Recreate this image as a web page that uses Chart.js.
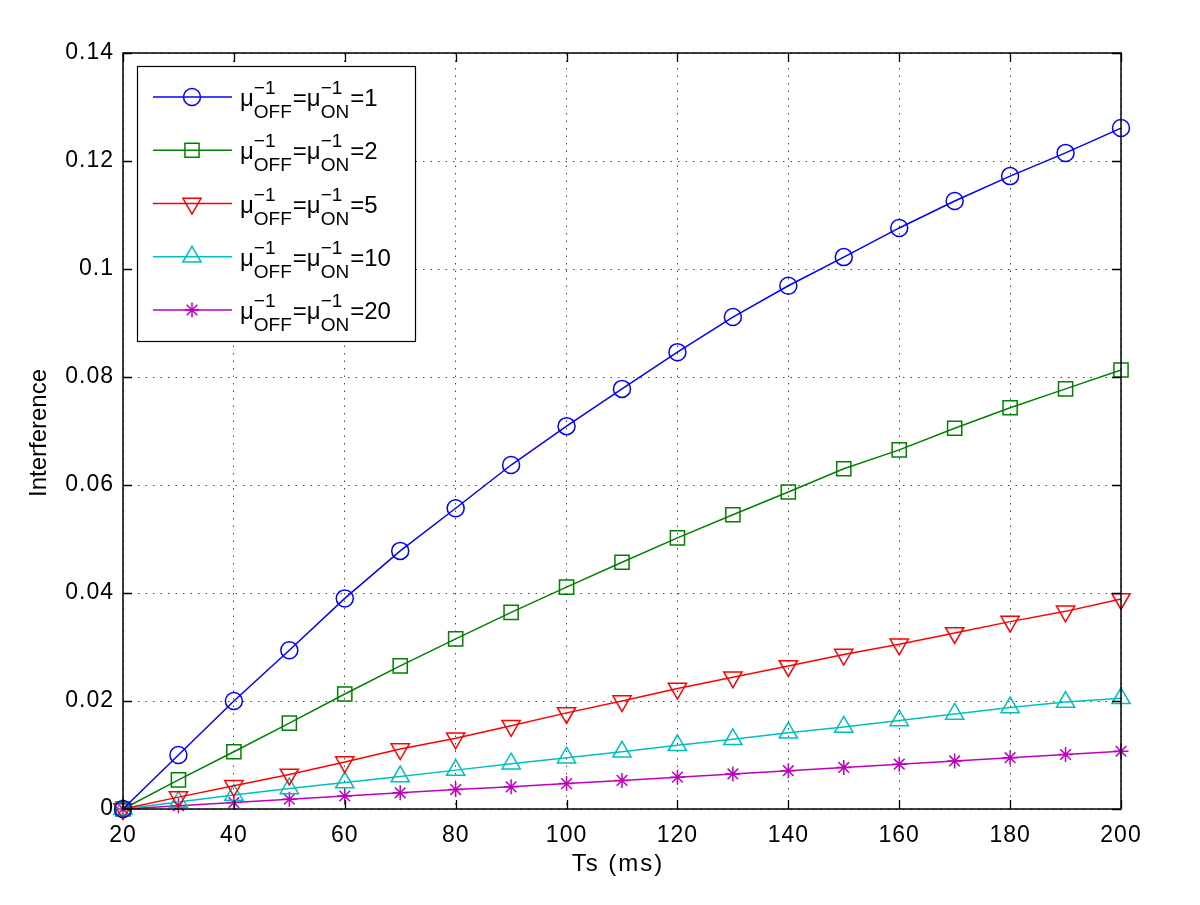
<!DOCTYPE html>
<html>
<head>
<meta charset="utf-8">
<script src="https://cdn.jsdelivr.net/npm/chart.js@4.4.0/dist/chart.umd.min.js"></script>
<style>
html,body{margin:0;padding:0;background:#fff;}
#wrap{width:1200px;height:905px;position:relative;}
</style>
</head>
<body>
<div id="wrap"><canvas id="c" width="1200" height="905"></canvas></div>
<script>
const tsValues = [20,30,40,50,60,70,80,90,100,110,120,130,140,150,160,170,180,190,200];
const mu1  = [0,0.0100,0.0200,0.0294,0.0390,0.0478,0.0557,0.0637,0.0709,0.0778,0.0846,0.0911,0.0969,0.1022,0.1076,0.1126,0.1172,0.1215,0.1261];
const mu2  = [0,0.0054,0.0106,0.0159,0.0213,0.0265,0.0315,0.0364,0.0411,0.0457,0.0502,0.0545,0.0587,0.0630,0.0665,0.0705,0.0743,0.0778,0.0813];
const mu5  = [0,0.0022,0.0043,0.0064,0.0087,0.0111,0.0131,0.0154,0.0178,0.0200,0.0223,0.0244,0.0265,0.0286,0.0305,0.0326,0.0347,0.0366,0.0389];
const mu10 = [0,0.0013,0.0026,0.0038,0.0049,0.0060,0.0072,0.0084,0.0095,0.0106,0.0118,0.0129,0.0141,0.0152,0.0164,0.0176,0.0188,0.0198,0.0205];
const mu20 = [0,0.0006,0.0012,0.0018,0.0024,0.0030,0.0036,0.0041,0.0047,0.0053,0.0059,0.0065,0.0071,0.0077,0.0083,0.0089,0.0095,0.0101,0.0107];
const seriesValues = ['1','2','5','10','20'];
const xTicks = [20,40,60,80,100,120,140,160,180,200];
const yTicks = [0,0.02,0.04,0.06,0.08,0.1,0.12,0.14];
const yTickLabels = ['0','0.02','0.04','0.06','0.08','0.1','0.12','0.14'];
const xTitle = 'Ts (ms)';
const yTitle = 'Interference';

const FONT = '"Liberation Sans", Arial, Helvetica, sans-serif';
const colors = ['#0000ff','#008000','#ff0000','#00bfbf','#bf00bf'];
const styles = [
  {pointStyle:'circle', radius:8.5, rotation:0},
  {pointStyle:'rect', radius:10, rotation:0},
  {pointStyle:'triangle', radius:10.5, rotation:180},
  {pointStyle:'triangle', radius:10.5, rotation:0},
  {pointStyle:'star', radius:7.5, rotation:0}
];
const allSeries = [mu1, mu2, mu5, mu10, mu20];

const datasets = allSeries.map((arr, i) => ({
  label: 'mu=' + seriesValues[i],
  data: tsValues.map((x, j) => ({x: x, y: arr[j]})),
  borderColor: colors[i],
  backgroundColor: 'rgba(0,0,0,0)',
  borderWidth: 1.5,
  pointStyle: styles[i].pointStyle,
  pointRadius: styles[i].radius,
  pointRotation: styles[i].rotation,
  pointBorderColor: colors[i],
  pointBackgroundColor: 'rgba(0,0,0,0)',
  pointBorderWidth: 1.5,
  pointHoverRadius: styles[i].radius,
  tension: 0,
  clip: false
}));

function drawMarker(ctx, i, x, y) {
  const st = styles[i];
  ctx.save();
  ctx.strokeStyle = colors[i];
  ctx.fillStyle = 'rgba(0,0,0,0)';
  ctx.lineWidth = 1.5;
  if (Chart.helpers && Chart.helpers.drawPoint) {
    Chart.helpers.drawPoint(ctx, {pointStyle: st.pointStyle, radius: st.radius, rotation: st.rotation, borderWidth: 1.5}, x, y);
  }
  ctx.restore();
}

const framePlugin = {
  id: 'frame',
  beforeDraw(chart) {
    try { chart.ctx.letterSpacing = '1px'; } catch (e) {}
  },
  afterDatasetsDraw(chart) {
    const {ctx, chartArea: a, scales} = chart;
    ctx.save();
    ctx.strokeStyle = '#000';
    ctx.lineWidth = 1.3;
    ctx.beginPath();
    const tl = 9;
    xTicks.forEach(v => {
      const px = Math.round(scales.x.getPixelForValue(v)) + 0.5;
      ctx.moveTo(px, a.bottom); ctx.lineTo(px, a.bottom - tl);
      ctx.moveTo(px, a.top); ctx.lineTo(px, a.top + tl);
    });
    yTicks.forEach(v => {
      const py = Math.round(scales.y.getPixelForValue(v)) + 0.5;
      ctx.moveTo(a.left, py); ctx.lineTo(a.left + tl, py);
      ctx.moveTo(a.right, py); ctx.lineTo(a.right - tl, py);
    });
    ctx.stroke();
    ctx.lineWidth = 1.5;
    ctx.strokeRect(a.left, a.top, a.right - a.left, a.bottom - a.top);
    ctx.restore();
  },
  afterDraw(chart) {
    const ctx = chart.ctx;
    const a = chart.chartArea;
    ctx.save();
    ctx.fillStyle = '#000';
    ctx.textBaseline = 'alphabetic';
    ctx.textAlign = 'center';
    try { ctx.letterSpacing = '2px'; } catch (e) {}
    ctx.font = '24px ' + FONT;
    ctx.fillText(xTitle, (a.left + a.right) / 2 - 4, 871);
    try { ctx.letterSpacing = '0px'; } catch (e) {}
    ctx.save();
    ctx.translate(46, (a.top + a.bottom) / 2 + 2);
    ctx.rotate(-Math.PI / 2);
    ctx.fillText(yTitle, 0, 0);
    ctx.restore();

    const bx = 137, by = 66, bw = 278, bh = 275;
    ctx.fillStyle = '#fff';
    ctx.fillRect(bx, by, bw, bh);
    ctx.strokeStyle = '#000';
    ctx.lineWidth = 1.2;
    ctx.strokeRect(bx + 0.5, by + 0.5, bw, bh);
    const big = '24px ' + FONT, small = '19px ' + FONT;
    for (let i = 0; i < 5; i++) {
      const ry = 97 + i * 53.25;
      ctx.strokeStyle = colors[i];
      ctx.lineWidth = 1.5;
      ctx.beginPath(); ctx.moveTo(153, ry); ctx.lineTo(232, ry); ctx.stroke();
      drawMarker(ctx, i, 192, ry);
      ctx.fillStyle = '#000';
      ctx.textBaseline = 'alphabetic';
      ctx.textAlign = 'left';
      let x = 240;
      const part = (t, font, dy) => { ctx.font = font; ctx.fillText(t, x, ry + dy); return ctx.measureText(t).width; };
      x += part('μ', big, 9);
      let w1 = part('−1', small, -3);
      let w2 = part('OFF', small, 21);
      x += Math.max(w1, w2) + 1;
      x += part('=μ', big, 9);
      w1 = part('−1', small, -3);
      w2 = part('ON', small, 21);
      x += Math.max(w1, w2) + 1;
      part('=' + seriesValues[i], big, 9);
    }
    ctx.restore();
  }
};

new Chart(document.getElementById('c'), {
  type: 'line',
  data: {datasets},
  options: {
    responsive: false,
    animation: false,
    devicePixelRatio: 1,
    layout: {padding: {top: 53, right: 79, left: 0, bottom: 0}},
    plugins: {legend: {display: false}, tooltip: {enabled: false}, title: {display: false}},
    scales: {
      x: {
        type: 'linear', min: 20, max: 200,
        afterFit(s) { s.height = 96; },
        afterBuildTicks(s) { s.ticks = xTicks.map(v => ({value: v})); },
        ticks: {padding: 13, color: '#000', font: {family: FONT, size: 23}, callback: v => String(v), maxRotation: 0, autoSkip: false},
        grid: {drawTicks: false, color: '#444', lineWidth: 1},
        border: {display: false, dash: [1.5, 6]},
        title: {display: false}
      },
      y: {
        type: 'linear', min: 0, max: 0.14,
        afterFit(s) { s.width = 123; },
        afterBuildTicks(s) { s.ticks = yTicks.map(v => ({value: v})); },
        ticks: {padding: 9, color: '#000', font: {family: FONT, size: 23}, autoSkip: false,
          callback: (v) => { const k = yTicks.findIndex(t => Math.abs(t - v) < 1e-9); return k >= 0 ? yTickLabels[k] : ''; }},
        grid: {drawTicks: false, color: '#444', lineWidth: 1},
        border: {display: false, dash: [1.5, 6]},
        title: {display: false}
      }
    }
  },
  plugins: [framePlugin]
});
</script>
</body>
</html>
